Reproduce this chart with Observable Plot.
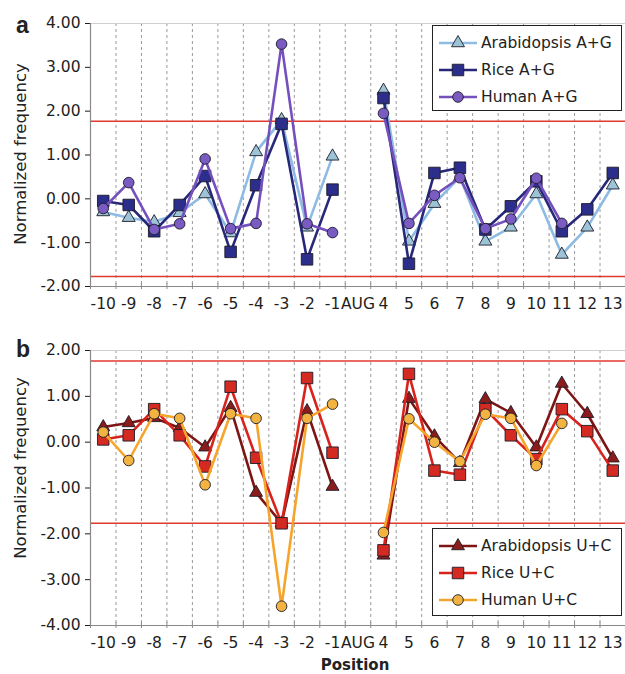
<!DOCTYPE html>
<html><head><meta charset="utf-8">
<script src="https://cdn.jsdelivr.net/npm/d3@7"></script>
<script src="https://cdn.jsdelivr.net/npm/@observablehq/plot@0.6"></script>
<style>
body{margin:0;background:#fff;font-family:"DejaVu Sans",sans-serif;color:#222;}
.panel{position:relative;width:625px;}
.letter{position:absolute;font-family:"Liberation Sans",Arial,sans-serif;font-weight:bold;font-size:23px;line-height:1;}
.ylab{position:absolute;white-space:nowrap;font-size:16.5px;line-height:1;transform:translate(-50%,-50%) rotate(-90deg);}
.xlab{position:absolute;font-weight:bold;font-size:15px;line-height:1;transform:translateX(-50%);}
.legend{position:absolute;border:1.5px solid #222;background:#fff;box-sizing:border-box;padding:3px 0 0 6px;}
.legend .row{display:flex;align-items:center;height:27px;font-size:15.5px;white-space:nowrap;}
.legend svg{margin-right:4px;}
</style></head><body>
<div id="a" class="panel"></div>
<div id="b" class="panel"></div>
<script>
// ---- data ----
const categories = ["-10","-9","-8","-7","-6","-5","-4","-3","-2","-1","AUG","4","5","6","7","8","9","10","11","12","13"];
const threshold = [1.77, -1.77];

const arabidopsisAG = [-0.30,-0.43,-0.53,-0.32,0.11,-0.78,1.07,1.80,-0.65,0.97,null,2.47,-0.97,-0.11,0.50,-0.97,-0.65,0.11,-1.27,-0.65,0.31];
const riceAG        = [-0.05,-0.14,-0.74,-0.14,0.52,-1.21,0.31,1.71,-1.38,0.21,null,2.30,-1.48,0.59,0.71,-0.70,-0.17,0.40,-0.74,-0.24,0.59];
const humanAG       = [-0.22,0.37,-0.70,-0.57,0.91,-0.68,-0.56,3.53,-0.57,-0.77,null,1.95,-0.56,0.08,0.48,-0.68,-0.46,0.47,-0.56,null,null];

const arabidopsisUC = [0.33,0.42,0.53,0.31,-0.11,0.75,-1.10,-1.77,0.68,-0.97,null,-2.47,0.95,0.13,-0.45,0.94,0.64,-0.11,1.28,0.62,-0.35];
const riceUC        = [0.06,0.15,0.72,0.15,-0.53,1.21,-0.34,-1.77,1.40,-0.23,null,-2.36,1.49,-0.62,-0.71,0.72,0.15,-0.37,0.72,0.24,-0.62];
const humanUC       = [0.22,-0.40,0.62,0.52,-0.93,0.62,0.52,-3.58,0.52,0.83,null,-1.97,0.51,0.00,-0.42,0.61,0.52,-0.51,0.41,null,null];

const yTicksA = [-2,-1,0,1,2,3,4];
const yTicksB = [-4,-3,-2,-1,0,1,2];

const seriesA = [
  {name:"Arabidopsis A+G", values: arabidopsisAG, line:"#8dbbe3", fill:"#9cc3d6", symbol:"triangle", r:4.8},
  {name:"Rice A+G",        values: riceAG,        line:"#27287a", fill:"#2c2e8c", symbol:"square",   r:6.5},
  {name:"Human A+G",       values: humanAG,       line:"#7550bd", fill:"#7a5bc1", symbol:"circle",   r:5.3}
];
const seriesB = [
  {name:"Arabidopsis U+C", values: arabidopsisUC, line:"#7d1515", fill:"#8a1c1c", symbol:"triangle", r:4.8},
  {name:"Rice U+C",        values: riceUC,        line:"#d8231d", fill:"#d42a22", symbol:"square",   r:6.5},
  {name:"Human U+C",       values: humanUC,       line:"#f6a52c", fill:"#f3b340", symbol:"circle",   r:5.3}
];

function makePanel(series, yTicks, height, marginTop, marginBottom) {
  const yMin = d3.min(yTicks), yMax = d3.max(yTicks);
  const idx = categories.map((c, i) => i);
  const boundaries = d3.range(categories.length + 1).map(i => i - 0.5);
  const inner = boundaries.slice(1, -1);
  const marks = [
    Plot.ruleX(inner, {stroke:"#9a9a9a", strokeWidth:1, strokeDasharray:"3,3"}),
    Plot.ruleY([yMax], {stroke:"#d0d0d0"}),
    Plot.ruleY(threshold, {stroke:"#e0392d", strokeWidth:1.5}),
    Plot.ruleY([yMin], {stroke:"#8a8a8a", strokeWidth:1.2}),
    Plot.ruleX([boundaries[0]], {stroke:"#8a8a8a", strokeWidth:1.2}),
    Plot.ruleX(boundaries, {y1: yMin, y2: yMin, insetTop:-3, insetBottom:-3, stroke:"#8a8a8a"})
  ];
  for (const s of series) {
    const data = s.values.map((v, i) => ({i, v}));
    marks.push(Plot.line(data, {x:"i", y:"v", stroke:s.line, strokeWidth:2.6, curve:"linear"}));
    marks.push(Plot.dot(data.filter(d => d.v != null), {x:"i", y:"v", symbol:s.symbol, r:s.r, fill:s.fill, stroke:"#1c1c28", strokeWidth:0.9}));
  }
  return Plot.plot({
    width: 625, height, marginLeft: 90, marginRight: 0, marginTop, marginBottom,
    style: {fontFamily: "DejaVu Sans", fontSize: "15.5px", color: "#1e1e1e", background: "#fff", overflow: "visible"},
    x: {domain: [boundaries[0], boundaries[boundaries.length - 1]], ticks: idx, tickFormat: i => categories[i], tickSize: 0, tickPadding: 11, label: null},
    y: {domain: [yMin, yMax], ticks: yTicks, tickFormat: d => d.toFixed(2), tickSize: 5, tickPadding: 5, label: null},
    marks
  });
}

function symbolPath(sym, r) {
  const type = {triangle: d3.symbolTriangle, square: d3.symbolSquare, circle: d3.symbolCircle}[sym];
  return d3.symbol(type, Math.PI * r * r)();
}

function legend(series, left, top, w, h) {
  const div = document.createElement("div");
  div.className = "legend";
  Object.assign(div.style, {left: left + "px", top: top + "px", width: w + "px", height: h + "px"});
  for (const s of series) {
    const row = document.createElement("div");
    row.className = "row";
    row.innerHTML = `<svg width="38" height="16"><line x1="0" x2="38" y1="8" y2="8" stroke="${s.line}" stroke-width="2.6"/>` +
      `<path transform="translate(19,8)" d="${symbolPath(s.symbol, s.r)}" fill="${s.fill}" stroke="#1c1c28" stroke-width="0.9"/></svg>` +
      `<span>${s.name}</span>`;
    div.appendChild(row);
  }
  return div;
}

function addText(parent, cls, text, style) {
  const d = document.createElement("div");
  d.className = cls; d.textContent = text;
  Object.assign(d.style, style);
  parent.appendChild(d);
}

const pa = document.getElementById("a");
pa.style.height = "318px";
pa.appendChild(makePanel(seriesA, yTicksA, 318, 23, 32));
pa.appendChild(legend(seriesA, 432, 25, 190, 86));
addText(pa, "letter", "a", {left: "16px", top: "14px"});
addText(pa, "ylab", "Normalized frequency", {left: "21px", top: "154px"});

const pb = document.getElementById("b");
pb.style.height = "356px";
pb.appendChild(makePanel(seriesB, yTicksB, 356, 32, 49));
pb.appendChild(legend(seriesB, 432, 210, 190, 88));
addText(pb, "letter", "b", {left: "16px", top: "20px"});
addText(pb, "ylab", "Normalized frequency", {left: "21px", top: "150px"});
addText(pb, "xlab", "Position", {left: "355px", top: "340px"});
</script>
</body></html>
